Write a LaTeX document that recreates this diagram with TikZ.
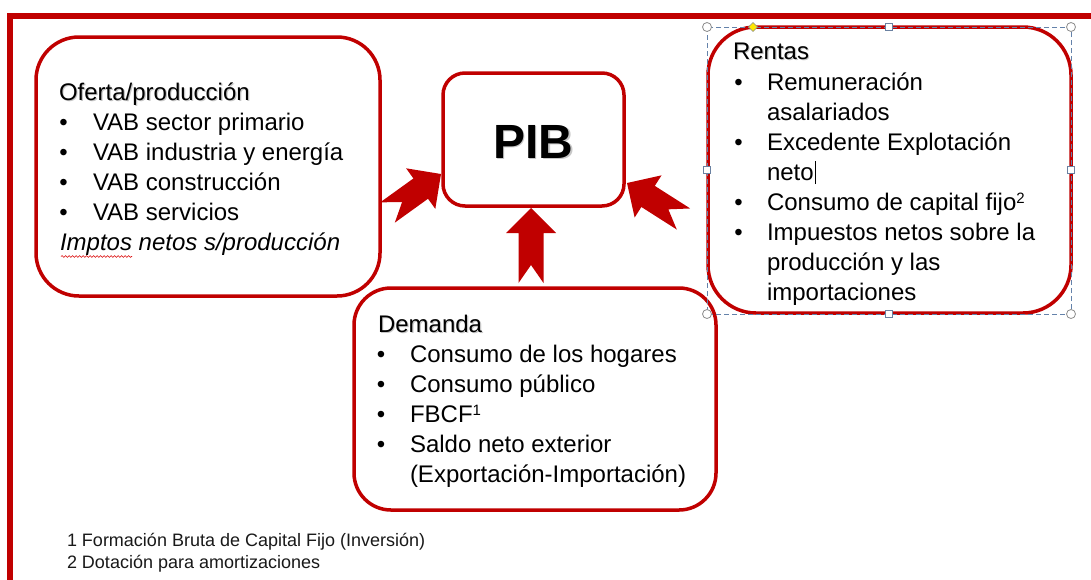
\documentclass[tikz,border=0pt]{standalone}
\usepackage{fontspec}
\setmainfont{Liberation Sans}
\usetikzlibrary{calc,decorations.pathmorphing}
\definecolor{pptred}{RGB}{192,0,0}
\definecolor{selblue}{RGB}{100,130,170}
\definecolor{handlegray}{RGB}{140,140,140}
\tikzset{
  box/.style={draw=pptred, line width=3.5pt, inner sep=0pt, outer sep=0pt, rectangle},
  txt/.style={anchor=base west, inner sep=0pt, outer sep=0pt, font=\fontsize{24}{30}\selectfont},
  bul/.style={anchor=base, inner sep=0pt, outer sep=0pt, font=\fontsize{24}{30}\selectfont},
  shd/.style={txt, text=black!22},
  foot/.style={anchor=base west, inner sep=0pt, outer sep=0pt, font=\fontsize{18}{22}\selectfont, text=black!90},
  arrowfill/.style={fill=pptred},
  handlec/.style={draw=handlegray, fill=white, line width=0.8pt},
  handles/.style={draw=selblue!80!gray, fill=white, line width=0.8pt}
}
\newcommand\notcharrow[2]{%
  \path ($(#2)!25pt!(#1)$) coordinate (nb) ($(#1)!18pt!(#2)$) coordinate (nn);
  \fill[arrowfill] (#2) -- ($(nb)!25pt!90:(#2)$) -- ($(nb)!12.5pt!90:(#2)$)
    -- ($(#1)!12.5pt!90:(#2)$) -- (nn) -- ($(#1)!12.5pt!-90:(#2)$)
    -- ($(nb)!12.5pt!-90:(#2)$) -- ($(nb)!25pt!-90:(#2)$) -- cycle;}
\newcommand\supr[1]{\raisebox{6.5pt}{\fontsize{15}{15}\selectfont #1}}
\begin{document}
\begin{tikzpicture}[x=1pt,y=-1pt]
\useasboundingbox (0,0) rectangle (1091,579);
\fill[white] (0,0) rectangle (1091,579);
% frame
\draw[pptred, line width=6pt, line join=miter] (10,585) -- (10,16) -- (1097,16);

% boxes
\node[box, minimum width=344pt, minimum height=259pt, rounded corners=43pt] (ofe) at (208,166.5) {};
\node[box, minimum width=181pt, minimum height=133pt, rounded corners=22pt] (pib) at (533.5,139.5) {};
\node[box, minimum width=363pt, minimum height=286pt, rounded corners=48pt] (ren) at (889.5,170) {};
\node[box, minimum width=362pt, minimum height=222pt, rounded corners=37pt] (dem) at (535,399) {};

% arrows
\coordinate (la-t) at (387.5,212.5);
\coordinate (la-h) at (441,174);
\coordinate (ua-t) at (531,283);
\coordinate (ua-h) at (531,208);
\coordinate (ra-t) at (683.5,219);
\coordinate (ra-h) at (627,183);
\notcharrow{la-t}{la-h}
\notcharrow{ua-t}{ua-h}
\notcharrow{ra-t}{ra-h}

% PIB
\node[anchor=base, inner sep=0pt, text=black!22, font=\fontsize{48}{50}\selectfont\bfseries] (pibs) at (534.8,159.8) {PIB};
\node[anchor=base, inner sep=0pt, font=\fontsize{48}{50}\selectfont\bfseries] (pibt) at (533,158) {PIB};

% Oferta
\node[shd] (o0s) at (60.2,101.2) {Oferta/producción};
\node[txt] (o0) at (59,100) {Oferta/producción};
\node[bul] (ob1) at (63.5,130) {•};
\node[txt] (o1) at (93,130) {VAB sector primario};
\node[bul] (ob2) at (63.5,160) {•};
\node[txt] (o2) at (93,160) {VAB industria y energía};
\node[bul] (ob3) at (63.5,190) {•};
\node[txt] (o3) at (93,190) {VAB construcción};
\node[bul] (ob4) at (63.5,220) {•};
\node[txt] (o4) at (93,220) {VAB servicios};
\node[txt] (o5) at (60,250) {\itshape Imptos netos s/producción};
\draw[red!85!black, line width=0.6pt, decorate, decoration={snake, amplitude=0.9pt, segment length=3.5pt}] (61,256.5) -- (132,256.5);

% Rentas
\node[shd] (r0s) at (734.2,60.2) {Rentas};
\node[txt] (r0) at (733,59) {Rentas};
\node[bul] (rb1) at (738.5,90) {•};
\node[txt] (r1) at (767,90) {Remuneración};
\node[txt] (r2) at (767,120) {asalariados};
\node[bul] (rb3) at (738.5,150) {•};
\node[txt] (r3) at (767,150) {Excedente Explotación};
\node[txt] (r4) at (767,180) {neto};
\draw[black, line width=1.2pt] (r4.base east) ++(1.5,4) -- ++(0,-23);
\node[bul] (rb5) at (738.5,210) {•};
\node[txt] (r5) at (767,210) {Consumo de capital fijo\supr{2}};
\node[bul] (rb6) at (738.5,240) {•};
\node[txt] (r6) at (767,240) {Impuestos netos sobre la};
\node[txt] (r7) at (767,270) {producción y las};
\node[txt] (r8) at (767,300) {importaciones};

% Demanda
\node[shd] (d0s) at (379.2,333.2) {Demanda};
\node[txt] (d0) at (378,332) {Demanda};
\node[bul] (db1) at (381,362) {•};
\node[txt] (d1) at (410,362) {Consumo de los hogares};
\node[bul] (db2) at (381,392) {•};
\node[txt] (d2) at (410,392) {Consumo público};
\node[bul] (db3) at (381,422) {•};
\node[txt] (d3) at (410,422) {FBCF\supr{1}};
\node[bul] (db4) at (381,452) {•};
\node[txt] (d4) at (410,452) {Saldo neto exterior};
\node[txt] (d5) at (410,482) {(Exportación-Importación)};

% footnotes
\node[foot] (f1) at (67,546) {1 Formación Bruta de Capital Fijo (Inversión)};
\node[foot] (f2) at (67,568) {2 Dotación para amortizaciones};

% selection frame around Rentas
\draw[selblue, line width=0.8pt, dash pattern=on 5pt off 3pt] (707,27) rectangle (1071,314);
\foreach \p in {(707,27),(1071,27),(707,314),(1071,314)}
  \path[handlec] \p circle[radius=4.5pt];
\foreach \p in {(889,27),(889,314),(707,170),(1071,170)}
  \path[handles] \p ++(-3.5,-3.5) rectangle ++(7,7);
\path[draw=handlegray, fill=yellow!90!orange, line width=0.6pt] (753,22.5) -- (757.5,27) -- (753,31.5) -- (748.5,27) -- cycle;
\end{tikzpicture}
\end{document}
